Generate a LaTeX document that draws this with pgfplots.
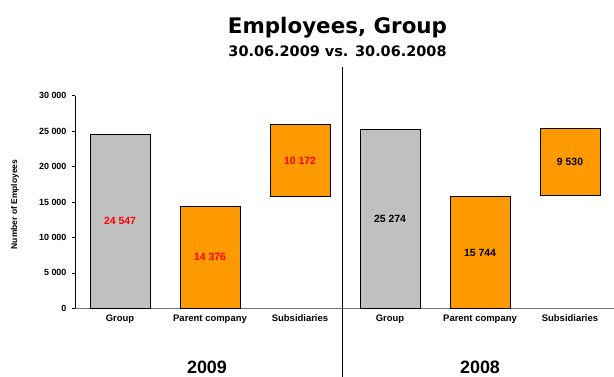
\documentclass[border=0pt]{standalone}
\usepackage{fontspec}
\setmainfont{Liberation Sans}
\newfontfamily\titlefont{DejaVu Sans}
\usepackage{pgfplots}
\pgfplotsset{compat=1.18}
\definecolor{barGray}{HTML}{C0C0C0}
\definecolor{barOrange}{HTML}{FF9900}
\definecolor{lblRed}{HTML}{FF0000}
\begin{document}
\begin{tikzpicture}[x=1bp,y=1bp]
\path[use as bounding box, clip] (0,0) rectangle (614,376);
\begin{axis}[
  at={(75bp,67.7bp)}, anchor=south west,
  scale only axis, width=540bp, height=212.6bp,
  xmin=-0.5, xmax=5.5, ymin=0, ymax=30000,
  ybar stacked, bar width=60bp,
  axis x line*=bottom, axis y line*=left,
  x axis line style={-, draw=black!55, line width=1bp},
  y axis line style={-, draw=black, line width=0.8bp},
  tick align=outside,
  major tick length=3bp,
  scaled y ticks=false,
  ytick={0,5000,10000,15000,20000,25000,30000},
  yticklabels={0, 5 000, 10 000, 15 000, 20 000, 25 000, 30 000},
  xtick={0,1,2,3,4,5},
  xticklabels={Group, Parent company, Subsidiaries, Group, Parent company, Subsidiaries},
  xtick style={draw=none},
  extra x ticks={-0.5,0.5,1.5,2.5,3.5,4.5,5.5},
  extra x tick labels={},
  extra x tick style={tick style={draw=black!55, line width=0.6bp}},
  ytick style={draw=black, line width=0.6bp},
  xticklabel style={font=\bfseries\fontsize{9.5}{11}\selectfont, text=black},
  yticklabel style={font=\bfseries\fontsize{9}{10}\selectfont, text=black, xshift=-2bp},
]
\addplot[draw=none, fill=none] coordinates {(0,0) (1,0) (2,15744) (3,0) (4,0) (5,15870)};
\addplot[fill=barGray, draw=black, line width=0.75bp] coordinates {(0,24547) (1,0) (2,0) (3,25274) (4,0) (5,0)};
\addplot[fill=barOrange, draw=black, line width=0.75bp] coordinates {(0,0) (1,14376) (2,10172) (3,0) (4,15744) (5,9530)};
\coordinate (L0) at (axis cs:0,12273.5);
\coordinate (L1) at (axis cs:1,7188);
\coordinate (L2) at (axis cs:2,20830);
\coordinate (L3) at (axis cs:3,12637);
\coordinate (L4) at (axis cs:4,7872);
\coordinate (L5) at (axis cs:5,20635);
\end{axis}
\begin{scope}[font=\bfseries\fontsize{10.5}{12}\selectfont]
\node[text=lblRed] at (L0) {24 547};
\node[text=lblRed] at (L1) {14 376};
\node[text=lblRed] at (L2) {10 172};
\node[text=black] at (L3) {25 274};
\node[text=black] at (L4) {15 744};
\node[text=black] at (L5) {9 530};
\end{scope}
\node[rotate=90, font=\bfseries\fontsize{8.5}{10}\selectfont] at (15,171.5) {Number of Employees};
\node[anchor=base, font=\titlefont\bfseries\fontsize{21.5}{24}\selectfont] at (337.5,343) {Employees, Group};
\node[anchor=base, font=\titlefont\bfseries\fontsize{14.5}{17}\selectfont] at (337.5,320) {30.06.2009 vs. 30.06.2008};
\draw[line width=1.5bp, black] (342.7,309) -- (342.7,-5);
\node[anchor=base, inner sep=0pt, font=\bfseries\fontsize{18}{20}\selectfont] at (207,3) {2009};
\node[anchor=base, inner sep=0pt, font=\bfseries\fontsize{18}{20}\selectfont] at (480,3) {2008};
\end{tikzpicture}
\end{document}
